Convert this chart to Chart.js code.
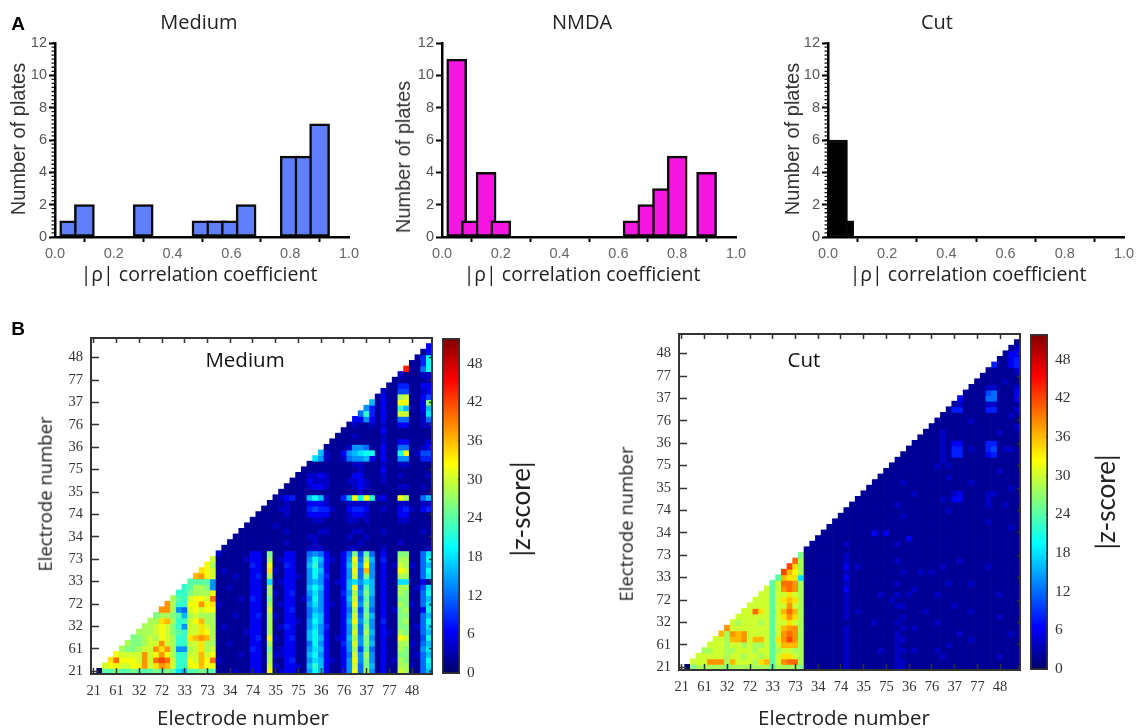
<!DOCTYPE html>
<html><head><meta charset="utf-8">
<script src="https://cdn.jsdelivr.net/npm/chart.js@4"></script>
<style>
html,body{margin:0;padding:0;background:#fff;width:1137px;height:728px;overflow:hidden}
#root{position:absolute;left:0;top:0;width:1137px;height:728px;filter:blur(.45px)}
canvas{position:absolute}
.t{position:absolute;white-space:nowrap;transform-origin:center center;line-height:1}
</style></head><body><div id="root"></div>
<script>
// ---------- Histogram data ----------
const mediumBins=[0.05,0.1,0.3,0.5,0.55,0.6,0.65,0.8,0.85,0.9];
const mediumCounts=[1,2,2,1,1,1,2,5,5,7];
const nmdaBins=[0.05,0.1,0.15,0.2,0.65,0.7,0.75,0.8,0.9];
const nmdaCounts=[11,1,4,1,1,2,3,5,4];
const cutBins=[0.053,0.032];
const cutCounts=[1,6];
const yTickStep=2, xTickStep=0.2, minorStep=0.25;

// ---------- Heatmap data: row 0 is the bottom row, each character = |z-score|/2 in base 36,
// each row ends at the last electrode and starts just after the diagonal ----------
const electrodeTicks=["21","61","32","72","33","73","34","74","35","75","36","76","37","77","48"];
const mediumRows=[
"0ccdccdcccdcdc98ccdcc 111211 33 1 g 12 33 11 7a8 3 11 3 7g6e7 1 3 11 fe 11 68",
"fggffggjfhjifbbggigg 111111 33 1 f 21 33 21 8b8 3 11 3 7f6d8 1 3 11 ee 21 69",
"hkgggfjfklkfbbgfigk 211111 33 1 e 11 34 11 798 3 21 3 7g7d7 1 3 12 ed 11 6a",
"gffffjfgjgebbffifg 111121 33 1 e 22 33 11 8a7 3 11 3 6f7e7 1 3 11 dd 12 68",
"eddeffjhje77efhef 111111 43 1 d 12 33 11 798 3 11 3 7e5c6 1 3 11 ed 11 79",
"eddeffjfebbffhee 112111 33 1 e 11 33 11 6a7 3 11 4 7f7d8 1 3 11 ee 21 68",
"ddefegfebbhijie 111111 34 1 g 21 34 11 8a8 3 12 3 8e7d7 1 3 11 gf 11 5a",
"eeefgfdcbffhge 111112 33 1 e 11 33 11 8a7 3 11 3 7f6e8 1 3 21 ed 11 68",
"eefgfdb7ffhfe 121111 33 1 e 12 43 11 797 4 11 3 7e6d7 1 3 11 dd 12 69",
"eehiebbfgiee 111111 33 1 e 11 33 21 7a8 3 11 3 8g7c7 1 4 11 de 11 6a",
"deedc8efeee 111211 34 1 e 21 33 11 698 3 11 3 7f6d8 1 3 11 dd 11 68",
"jje76fgfgg 111111 33 1 f 11 34 11 687 3 11 3 6e5c6 1 3 12 de 11 3a",
"jebbggjgh 211111 33 1 e 12 33 11 797 3 21 3 7g7d7 1 3 11 ed 21 69",
"ecbfggfk 111121 43 1 d 11 33 12 6a7 3 11 3 8f6c7 1 3 11 dd 11 68",
"bbdeeeg 111111 33 1 e 21 34 11 797 3 11 4 7e7d8 1 3 11 ed 11 6a",
"bceed7 112111 33 1 e 11 33 11 8a8 3 11 3 8g6c8 1 3 11 ee 12 59",
"cccc7 111111 33 1 9 12 33 11 787 3 12 3 89798 1 3 11 99 11 31",
"ijgf 111211 34 1 e 11 33 21 7a7 4 11 3 7f6d7 1 3 11 ee 11 69",
"hgf 121111 33 1 h 21 33 11 7a8 3 11 3 7g6i7 1 3 11 gf 11 6a",
"ge 111111 43 1 g 11 43 11 8b7 3 11 3 8f7g7 1 3 12 fe 21 68",
"f 111112 33 1 e 12 33 11 7a8 3 21 3 7g6e8 1 4 11 ee 11 6a",
"211111 33 1 d 11 33 11 676 3 11 3 6d5c6 1 3 11 dd 11 69",
"11111 11 1 1 11 11 11 222 1 11 1 22111 1 2 11 11 11 12",
"1111 11 1 1 11 21 11 121 1 11 1 11211 1 1 11 21 11 11",
"111 11 1 1 11 11 11 221 1 11 1 21121 1 1 11 11 11 11",
"11 11 1 1 11 21 11 112 2 11 1 12211 1 2 11 11 11 21",
"1 11 1 1 21 11 11 111 1 11 1 11111 1 1 11 11 11 11",
"11 1 1 11 11 11 122 1 11 1 22121 1 1 11 22 11 11",
"1 1 1 11 21 11 333 3 11 1 23321 1 1 11 33 11 11",
"1 1 12 21 11 454 4 21 1 34431 1 2 11 34 21 34",
"1 11 21 11 333 2 11 1 22221 1 1 11 22 11 22",
"12 34 11 8a8 2 11 4 8gagb 2 3 11 ge 11 68",
"1 11 11 111 1 11 1 11211 1 1 11 11 11 11",
"11 11 233 2 11 1 12321 1 1 11 22 11 21",
"1 11 322 2 11 1 22321 1 2 11 11 11 11",
"11 223 2 11 1 13311 1 2 11 21 11 12",
"1 111 1 11 1 11211 1 3 11 11 11 11",
"111 1 11 1 12211 1 2 11 22 11 11",
"97 2 11 2 67783 1 3 11 77 11 44",
"8 2 11 3 789aa 1 3 11 ag 12 55",
"1 11 1 27761 1 3 11 66 11 23",
"11 1 11111 1 2 11 33 11 12",
"1 1 12111 1 2 11 11 11 11",
"1 11111 1 3 11 11 11 11",
"12112 1 2 11 33 11 22",
"3373 1 3 11 66 11 26",
"6b4 1 3 11 ff 11 29",
"74 1 3 11 b8 11 38",
"8 1 3 11 gg 11 3d",
"1 3 11 ef 11 35",
"2 11 55 11 23",
"11 44 11 33",
"1 11 11 12",
"21 11 22",
"m 11 6a",
"11 4a",
"1 4a",
"13",
"3"];
const cutRows=[
"0deeeeedeeeeeeeceeeed 111111 12 1 1 11 11 11 221 1 11 1 11111 1 1 11 11 11 11",
"fffjjjeifffehicfjkke 111111 12 1 1 11 11 11 221 1 11 1 11111 1 1 11 11 11 11",
"fffffeffeffefcfhhfe 111111 12 1 1 11 11 11 211 1 11 1 12111 1 1 11 11 21 11",
"eeffeefffeffceffee 111111 12 1 1 11 12 11 221 2 11 1 21111 1 1 11 11 11 11",
"fffeffefeefcfiiie 111111 12 1 1 11 11 11 211 1 11 1 11211 1 1 11 11 11 11",
"ffeiijfiifchjlje 111111 12 1 1 11 11 11 221 1 11 1 11111 1 2 11 11 11 11",
"iejijffffcfjkje 111111 12 1 1 11 11 11 211 1 11 1 11112 1 1 11 11 11 21",
"jfffffffcfijje 111111 12 1 1 11 11 11 121 2 11 1 11111 1 1 11 11 11 11",
"fefffefcffhfe 111111 11 1 1 11 21 11 211 1 11 1 21111 1 1 11 11 11 11",
"ffffffcfhjhe 111111 12 1 1 11 11 11 121 1 11 1 11111 1 1 11 11 21 11",
"ffkhfcfikie 111111 12 1 2 11 11 11 111 1 12 1 11111 1 2 11 11 11 11",
"ffffcffjfe 111111 12 1 1 11 11 11 221 1 11 1 11121 1 1 11 11 11 11",
"fffcfhihe 111111 12 1 1 11 11 12 111 1 11 1 11111 1 1 11 11 11 11",
"ffcffhfe 111111 12 1 1 11 12 11 212 1 11 1 21111 1 1 11 11 21 11",
"fcfjkje 111111 13 1 1 11 11 11 111 2 11 1 11111 1 1 11 11 11 11",
"cfkkje 111111 12 1 1 11 11 11 211 1 11 1 11211 1 2 11 11 11 11",
"cihh9 111111 13 1 1 11 11 11 111 1 11 1 11111 1 1 11 11 11 11",
"lige 111111 12 1 1 11 11 11 121 1 21 2 11111 1 1 11 11 11 11",
"lhe 111111 13 1 2 11 11 11 111 1 11 1 12111 1 1 11 21 11 11",
"ke 111111 12 1 1 11 11 11 211 1 11 1 11112 1 1 11 11 11 11",
"d 111111 12 1 1 11 11 11 111 1 11 1 11111 1 1 11 11 11 11",
"111111 11 1 1 11 11 11 111 1 11 1 11111 1 1 11 11 11 11",
"11111 12 1 1 11 11 11 211 1 11 1 11111 1 1 11 11 11 11",
"1111 11 1 1 11 11 11 113 1 11 1 11111 1 1 11 11 11 11",
"111 11 1 1 11 31 31 111 1 11 1 11111 1 1 11 11 11 11",
"11 11 1 1 11 11 11 111 1 11 1 11111 1 1 11 11 11 21",
"1 11 1 1 11 11 11 111 1 11 1 11111 1 1 11 21 11 11",
"11 1 1 11 11 11 121 1 11 1 11111 1 1 11 11 11 11",
"1 1 1 11 11 11 111 1 11 1 11211 1 1 11 11 11 11",
"1 1 11 11 11 211 1 11 1 11111 1 1 11 21 12 11",
"1 11 11 11 111 1 11 1 12133 1 1 11 21 11 11",
"11 11 11 111 2 11 1 11123 1 1 11 22 11 11",
"1 11 11 111 1 11 1 11111 1 1 11 11 11 21",
"11 11 121 1 11 1 11111 1 2 11 11 11 11",
"1 11 111 1 11 1 11211 1 1 11 11 11 11",
"11 111 1 11 1 11111 1 1 11 11 21 11",
"1 111 1 11 1 21211 1 1 11 11 11 11",
"111 1 11 1 12111 1 1 11 11 11 11",
"11 1 11 1 12144 1 1 11 34 11 11",
"1 1 11 1 12144 1 2 11 45 12 21",
"1 11 1 12133 1 1 11 44 11 11",
"11 1 12111 1 1 11 11 11 11",
"1 1 12111 1 1 11 11 21 11",
"1 11111 1 1 11 11 11 12",
"11111 1 2 11 11 11 11",
"1111 1 1 11 11 11 21",
"144 1 1 11 44 11 12",
"121 1 11 22 11 11",
"3 1 1 11 66 11 13",
"1 1 11 56 11 13",
"1 11 22 11 12",
"11 11 12 11",
"1 11 11 11",
"11 11 12",
"4 11 34",
"11 34",
"1 33",
"12",
"1"];
const electrodeCount=60;
const colorbarRange=[-0.2,52];
const colorbarTickStep=6;
const jetStops=[[0,[0,0,105]],[0.125,[0,0,255]],[0.375,[0,255,255]],[0.625,[255,255,0]],[0.875,[255,0,0]],[1,[128,0,0]]];

// ---------- Texts ----------
const SANS='"Open Sans"', ARIAL='"Liberation Sans"', SERIF='"Liberation Serif"';
const labels=[
 ["A",18,23,ARIAL,19,0,"#000","700"],["B",18,328,ARIAL,19,0,"#000","700"],
 ["Medium",199,22,SANS,20,0,"#222"],["NMDA",582,22,SANS,20,0,"#222"],["Cut",937,22,SANS,20,0,"#222"],
 ["Number of plates",17.5,139,ARIAL,20,-90,"#333"],["Number of plates",402.5,157,ARIAL,20,-90,"#333"],["Number of plates",792,139,ARIAL,20,-90,"#333"],
 ["|ρ| correlation coefficient",199,274,SANS,19.5,0,"#222"],["|ρ| correlation coefficient",582,274,SANS,19.5,0,"#222"],["|ρ| correlation coefficient",968,274,SANS,19.5,0,"#222"],
 ["Medium",245,359,SANS,20.5,0,"#111"],["Cut",804,359,SANS,20.5,0,"#111"],
 ["Electrode number",45,494,SANS,18.5,-90,"#222"],["Electrode number",243,717,SANS,20.5,0,"#222"],
 ["Electrode number",626,524,SANS,18.5,-90,"#222"],["Electrode number",844,717,SANS,20.5,0,"#222"],
 ["|z-score|",520,509,"Lato",26,-90,"#222"],["|z-score|",1105,502,"Lato",26,-90,"#222"]
];

// ---------- Helpers ----------
const root=document.getElementById('root');
function mkCanvas(box,m){
  const c=document.createElement('canvas');
  const w=Math.round(box.r-box.l+m.left+m.right), h=Math.round(box.b-box.t+m.top+m.bottom);
  c.width=w;c.height=h;c.style.width=w+'px';c.style.height=h+'px';
  c.style.left=(box.l-m.left)+'px';c.style.top=(box.t-m.top)+'px';
  root.appendChild(c);return c;
}
function lerpColor(t){
  t=Math.max(0,Math.min(1,t));
  for(let i=1;i<jetStops.length;i++){
    if(t<=jetStops[i][0]){
      const [a,ca]=jetStops[i-1],[b,cb]=jetStops[i],f=(t-a)/(b-a);
      return 'rgb('+ca.map((v,k)=>Math.round(v+(cb[k]-v)*f)).join(',')+')';
    }
  }
  return 'rgb(128,0,0)';
}
const fitV=w=>s=>{s.width=w;s.paddingTop=0;s.paddingBottom=0;};
const fitH=h=>s=>{s.height=h;s.paddingLeft=0;s.paddingRight=0;};
const minorTicks={id:'minorTicks',afterDraw(ch,_,o){
  if(!o.step)return;
  const s=ch.scales.y,c=ch.ctx;c.save();c.strokeStyle='#111';c.lineWidth=1.3;c.beginPath();
  for(let v=0;v<=s.max+1e-9;v+=o.step){const p=s.getPixelForValue(v);c.moveTo(s.right,p);c.lineTo(s.right-3.5,p);}
  c.stroke();c.restore();
}};

function histogram(box,bins,counts,color,minor){
  const m={left:42,top:10,right:14,bottom:32};
  new Chart(mkCanvas(box,m),{
    type:'bar',
    plugins:[minorTicks],
    data:{datasets:[{data:bins.map((b,i)=>({x:b,y:counts[i]})),backgroundColor:color,borderColor:'#0a0a0a',borderWidth:2.5,borderSkipped:false,barThickness:20,clip:false}]},
    options:{responsive:false,maintainAspectRatio:false,animation:false,events:[],
      layout:{padding:{top:m.top,right:m.right}},
      plugins:{legend:{display:false},title:{display:false},tooltip:{enabled:false},minorTicks:{step:minor?minorStep:0}},
      scales:{
        x:{type:'linear',min:0,max:1,offset:false,afterFit:fitH(m.bottom),
           border:{color:'#000',width:2.5,z:1},grid:{drawOnChartArea:false,tickColor:'#000',tickWidth:2,tickLength:5},
           ticks:{stepSize:xTickStep,maxRotation:0,padding:3,color:'#666',font:{family:ARIAL,size:14.5},callback:v=>Number(v).toFixed(1)}},
        y:{min:0,max:12,afterFit:fitV(m.left),
           border:{color:'#000',width:2.5,z:1},grid:{drawOnChartArea:false,tickColor:'#000',tickWidth:2,tickLength:6},
           ticks:{stepSize:yTickStep,padding:2,color:'#555',font:{family:ARIAL,size:14.5}}}
      }}
  });
}
function heatmap(box,rows){
  const m={left:50,top:2,right:2,bottom:34};
  const cells=[],colors=[];
  rows.forEach((raw,r)=>{
    const s=raw.replace(/ /g,'');
    const start=electrodeCount-s.length;
    for(let i=0;i<s.length;i++){
      const v=parseInt(s[i],36)*2;
      cells.push({x:start+i,y:r,v});
      colors.push(lerpColor(v/52));
    }
  });
  const tickAt=electrodeTicks.map((_,i)=>i*4);
  const setTicks=s=>{s.ticks=tickAt.map(v=>({value:v}));};
  const range={min:-0.5,max:electrodeCount-0.5};
  const frame={color:'#333',width:2,z:1};
  const g=len=>({drawOnChartArea:false,tickColor:'#333',tickWidth:1.5,tickLength:len,z:1});
  const lab=(v,i)=>electrodeTicks[i];
  new Chart(mkCanvas(box,m),{
    type:'scatter',
    data:{datasets:[{data:cells,pointStyle:'rect',pointBackgroundColor:colors,pointBorderWidth:0,
      pointRadius:ctx=>{const sx=ctx.chart.scales.x;return sx?(sx.width/electrodeCount)*0.5*Math.SQRT2*1.12:4;},pointHoverRadius:0}]},
    options:{responsive:false,maintainAspectRatio:false,animation:false,events:[],parsing:false,
      layout:{padding:0},
      plugins:{legend:{display:false},title:{display:false},tooltip:{enabled:false}},
      scales:{
        x:{type:'linear',position:'bottom',...range,afterBuildTicks:setTicks,afterFit:fitH(m.bottom),border:frame,grid:g(-6),
           ticks:{autoSkip:false,maxRotation:0,padding:14,color:'#333',font:{family:SERIF,size:14.5},callback:lab}},
        y:{type:'linear',position:'left',...range,afterBuildTicks:setTicks,afterFit:fitV(m.left),border:frame,grid:g(-8),
           ticks:{autoSkip:false,padding:16,color:'#333',font:{family:SERIF,size:14.5},callback:lab}},
        x2:{type:'linear',position:'top',...range,afterBuildTicks:setTicks,afterFit:fitH(m.top),border:frame,grid:g(-5),ticks:{display:false}},
        y2:{type:'linear',position:'right',...range,afterBuildTicks:setTicks,afterFit:fitV(m.right),border:frame,grid:g(-3),ticks:{display:false}}
      }}
  });
}
function colorbar(box){
  const m={left:2,top:10,right:40,bottom:10};
  new Chart(mkCanvas(box,m),{
    type:'bar',
    data:{labels:['|z-score|'],datasets:[{data:[colorbarRange],
      backgroundColor:ctx=>{
        const a=ctx.chart.chartArea;if(!a)return '#00f';
        const s=ctx.chart.scales.y,gr=ctx.chart.ctx.createLinearGradient(0,s.getPixelForValue(0),0,s.getPixelForValue(52));
        jetStops.forEach(([t,c])=>gr.addColorStop(t,'rgb('+c.join(',')+')'));return gr;
      },borderColor:'#333',borderWidth:2,borderSkipped:false,categoryPercentage:1,barPercentage:1}]},
    options:{responsive:false,maintainAspectRatio:false,animation:false,events:[],
      layout:{padding:{left:m.left,top:m.top,bottom:m.bottom}},
      plugins:{legend:{display:false},title:{display:false},tooltip:{enabled:false}},
      scales:{
        x:{display:false},
        y:{position:'right',min:colorbarRange[0],max:colorbarRange[1],afterFit:fitV(m.right),
           border:{display:false},grid:{drawOnChartArea:false,tickColor:'#333',tickWidth:1,tickLength:-2,z:1},
           ticks:{stepSize:colorbarTickStep,includeBounds:false,padding:9,color:'#333',font:{family:SERIF,size:15.5},
                  callback:v=>(v%colorbarTickStep===0&&v>=0)?String(v):''}}
      }}
  });
}

// ---------- Panels ----------
histogram({l:55,t:42.7,r:349.3,b:236.7},mediumBins,mediumCounts,'#5f7ffb',true);
histogram({l:441.7,t:42.7,r:736,b:236.7},nmdaBins,nmdaCounts,'#f516df',false);
histogram({l:828.3,t:42.7,r:1124,b:236.7},cutBins,cutCounts,'#000',true);
heatmap({l:91,t:338,r:432,b:674},mediumRows);
colorbar({l:442,t:338,r:460,b:674});
heatmap({l:679.3,t:334,r:1020.3,b:670},cutRows);
colorbar({l:1030,t:334,r:1048,b:670});

labels.forEach(([text,x,y,font,size,rot,color,weight])=>{
  const d=document.createElement('div');d.className='t';d.textContent=text;
  d.style.cssText+=`left:${x}px;top:${y}px;font-family:${font},sans-serif;font-size:${size}px;color:${color};font-weight:${weight||400};transform:translate(-50%,-50%) rotate(${rot}deg);`;
  root.appendChild(d);
});
</script></body></html>
